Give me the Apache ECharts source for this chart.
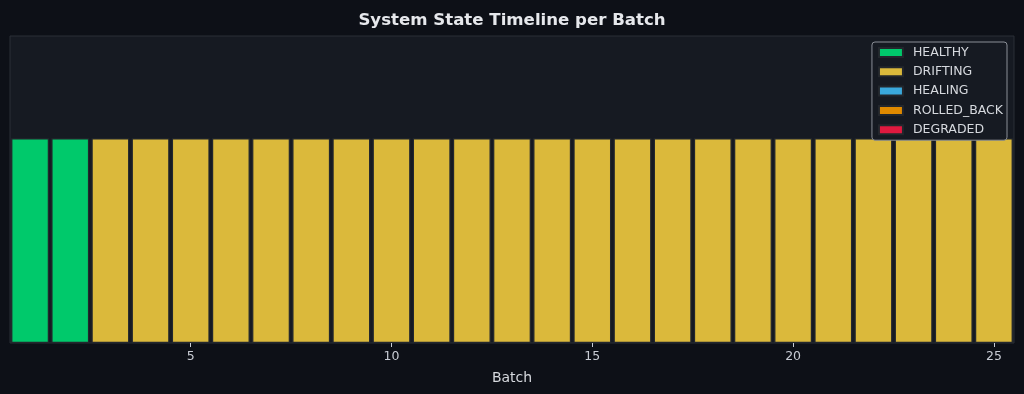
<!DOCTYPE html>
<html>
<head>
<meta charset="utf-8">
<script src="https://cdn.jsdelivr.net/npm/echarts@6/dist/echarts.min.js"></script>
<style>
html,body{margin:0;padding:0;background:#0d1017;}
#c{width:1024px;height:394px;}
</style>
</head>
<body>
<div id="c"></div>
<script>
const batches = ['1','2','3','4','5','6','7','8','9','10','11','12','13','14','15','16','17','18','19','20','21','22','23','24','25'];
const batchStates = ['HEALTHY','HEALTHY','DRIFTING','DRIFTING','DRIFTING','DRIFTING','DRIFTING','DRIFTING','DRIFTING','DRIFTING','DRIFTING','DRIFTING','DRIFTING','DRIFTING','DRIFTING','DRIFTING','DRIFTING','DRIFTING','DRIFTING','DRIFTING','DRIFTING','DRIFTING','DRIFTING','DRIFTING','DRIFTING'];
const stateNames = ['HEALTHY','DRIFTING','HEALING','ROLLED_BACK','DEGRADED'];
const stateColors = ['#00c96b','#dbb93b','#3aa8dc','#e08a00','#e0193f'];
const barHeight = 1;

const series = stateNames.map((s, i) => ({
  name: s,
  type: 'bar',
  stack: 'state',
  barWidth: '94%',
  itemStyle: { color: stateColors[i], borderColor: '#23272d', borderWidth: 1.2 },
  data: batchStates.map(b => b === s ? barHeight : '-')
}));

const chart = echarts.init(document.getElementById('c'), null, {renderer:'canvas'});
chart.setOption({
  backgroundColor: '#0d1017',
  animation: false,
  title: {
    text: 'System State Timeline per Batch',
    left: 'center', top: 7,
    textStyle: { color: '#e6e8ec', fontSize: 16.6, fontWeight: 'bold', fontFamily: 'DejaVu Sans' }
  },
  legend: {
    orient: 'vertical', right: 17, top: 42,
    data: stateNames,
    icon: 'rect', itemWidth: 24, itemHeight: 9, itemGap: 4.3,
    backgroundColor: '#161a22', borderColor: '#8a8e96', borderWidth: 1, borderRadius: 3,
    padding: [3, 4, 3, 6],
    textStyle: { color: '#d6d9de', fontSize: 12.5, fontFamily: 'DejaVu Sans', padding: [0, 0, 0, 5], lineHeight: 15 },
    selectedMode: false
  },
  grid: {
    left: 10, right: 10, top: 36, bottom: 51,
    show: true, backgroundColor: '#161a22', borderColor: '#2a2e36', borderWidth: 1
  },
  xAxis: {
    type: 'category',
    data: batches,
    name: 'Batch', nameLocation: 'middle', nameGap: 28,
    nameTextStyle: { color: '#d6d9de', fontSize: 14, fontFamily: 'DejaVu Sans' },
    axisLine: { show: false },
    axisTick: { show: true, alignWithLabel: true, length: 4, lineStyle: { color: '#c8ccd4' }, interval: (i) => (i + 1) % 5 === 0 },
    axisLabel: { color: '#c8ccd4', fontSize: 12.5, fontFamily: 'DejaVu Sans', margin: 7, interval: (i) => (i + 1) % 5 === 0 }
  },
  yAxis: {
    type: 'value', min: 0, max: 1.5, show: false, splitLine: { show: false }
  },
  series: series
});
</script>
</body>
</html>
